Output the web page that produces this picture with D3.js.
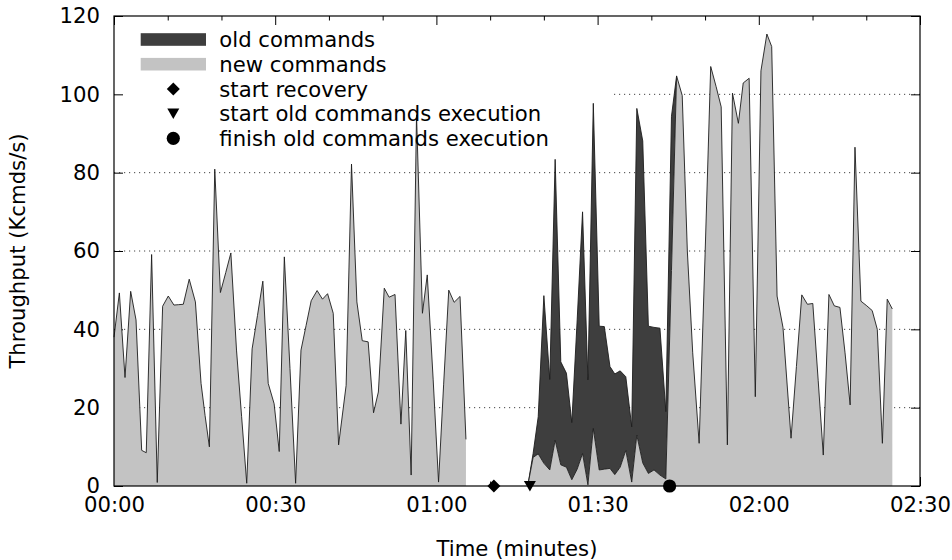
<!DOCTYPE html>
<html>
<head>
<meta charset="utf-8">
<script src="https://cdn.jsdelivr.net/npm/d3@7"></script>
<style>
  html, body { margin: 0; padding: 0; background: #fff; }
  svg { display: block; font-family: "DejaVu Sans", sans-serif; }
</style>
</head>
<body>
<svg id="chart" width="952" height="560"></svg>
<script>
// Throughput before the crash (new commands only), seconds and Kcmds/s
const timesBefore = [0.0, 1.0, 2.05, 3.1, 4.1, 5.15, 6.0, 7.0, 8.05, 9.05, 10.1, 11.15, 12.05, 12.9, 14.0, 15.15,
  16.2, 16.95, 17.75, 18.75, 19.8, 20.8, 21.75, 22.8, 23.75, 24.7, 25.7, 26.7, 27.7, 28.7, 29.8, 30.75, 31.7,
  32.75, 33.8, 34.8, 35.75, 36.7, 37.8, 38.8, 39.75, 40.8, 41.8, 43.2, 44.2, 45.2, 46.2, 47.3, 48.3, 49.2,
  50.3, 51.2, 52.3, 53.4, 54.3, 55.3, 56.3, 57.4, 58.3, 59.4, 60.4, 61.35, 62.3, 63.3, 64.4, 65.5];
const newBefore = [38, 49.3, 27.7, 49.7, 42.4, 9.1, 8.5, 59.1, 0.9, 45.9, 48.5, 46.2, 46.3, 46.4, 52.8, 47.0,
  26.2, 18.0, 10.0, 80.9, 49.4, 54.5, 59.5, 34.7, 17.7, 0.7, 35.0, 43.5, 52.3, 26.2, 21.0, 8.8, 58.5,
  30.0, 0.7, 34.7, 41.0, 47.3, 49.9, 47.7, 49.1, 44.1, 10.5, 25.7, 82.2, 47.0, 37.1, 36.8, 18.7, 24.0,
  50.5, 48.2, 48.9, 15.8, 39.7, 2.8, 94.8, 44.1, 53.9, 27.1, 1.0, 26.0, 50.0, 46.9, 48.4, 11.9];

// Throughput after recovery: new commands, plus old commands replayed on top
const timesAfter = [77.0, 78.0, 78.95, 80.0, 81.1, 82.1, 83.15, 84.2, 85.2, 86.2, 87.2, 88.2, 89.2, 90.3,
  91.25, 92.3, 93.2, 94.2, 95.25, 96.35, 97.3, 98.4, 99.45, 100.5, 101.6, 102.7, 103.75, 104.7,
  105.75, 106.7, 107.7, 108.9, 110.0, 111.05, 112.05, 113.0, 114.15, 115.1, 116.2, 117.1, 118.2, 119.35,
  120.4, 121.5, 122.4, 123.4, 124.5, 126.0, 127.0, 128.0, 129.05, 130.05, 131.05, 132.0, 133.05, 134.05,
  135.1, 136.05, 137.0, 137.9, 139.0, 140.1, 141.1, 142.05, 143.0, 143.9, 144.85];
const newAfter = [0, 7.3, 8.2, 5.8, 4.1, 11.7, 5.4, 4.8, 1.6, 4.3, 8.3, 0.3, 14.7, 4.1,
  4.3, 4.5, 2.9, 4.8, 9.1, 1.0, 13.0, 5.9, 3.2, 4.1, 2.8, 1.8, 55.0, 104.7,
  99.7, 60.0, 34.0, 10.9, 59.0, 107.1, 102.0, 96.8, 10.5, 100.3, 92.6, 102.9, 104.1, 22.8,
  106.0, 115.4, 112.2, 48.5, 40.5, 12.2, 30.5, 48.8, 46.4, 46.6, 27.0, 7.9, 48.9, 46.0,
  45.6, 34.0, 20.7, 86.5, 47.2, 46.0, 44.8, 40.0, 10.9, 47.7, 45.2];
// old commands, for the first timesAfter entries (77.0 s to 104.7 s)
const oldAfter = [0, 1.0, 9.5, 42.8, 23.1, 71.7, 26.3, 24.0, 14.6, 38.1, 61.7, 26.8, 83.0, 36.7,
  36.4, 26.0, 25.7, 24.6, 18.8, 14.1, 83.4, 82.2, 37.6, 36.4, 37.5, 17.2, 39.4, 0];

// Recovery events, in seconds
const eventLabels = ["start recovery", "start old commands execution", "finish old commands execution"];
const eventTimes = [70.7, 77.4, 103.4];
const eventShapes = ["diamond", "triangle", "circle"];

const seriesLabels = ["old commands", "new commands"];
const seriesColors = ["#3e3e3e", "#c3c3c3"];

const yTicks = [0, 20, 40, 60, 80, 100, 120];
const xTicks = [0, 30, 60, 90, 120, 150];
const xTickLabels = ["00:00", "00:30", "01:00", "01:30", "02:00", "02:30"];
const xMinorTicks = [10, 20, 40, 50, 70, 80, 100, 110, 130, 140];

const FONT = 21.2;

const svg = d3.select("#chart");
const x = d3.scaleLinear().domain([0, 150]).range([114, 920]);
const y = d3.scaleLinear().domain([0, 120]).range([486, 16]);

// horizontal grid lines
svg.append("g").selectAll("line")
  .data(yTicks.filter(v => v > 0 && v < 120))
  .join("line")
  .attr("x1", x(0)).attr("x2", x(150))
  .attr("y1", d => y(d)).attr("y2", d => y(d))
  .attr("stroke", "#444").attr("stroke-width", 1)
  .attr("stroke-dasharray", "1.2,3.8");

// key background hides the grid behind it
svg.append("rect")
  .attr("x", x(0) + 0.5).attr("y", 24).attr("width", 612 - x(0)).attr("height", 128)
  .attr("fill", "#fff");

function styleAxis(g) {
  g.select(".domain").remove();
  g.selectAll(".tick line").attr("stroke", "#000").attr("stroke-width", 1);
  g.selectAll("text").attr("font-size", FONT).attr("fill", "#000")
    .attr("font-family", "DejaVu Sans");
}

// inward ticks on all four sides
svg.append("g").attr("transform", `translate(0,${y(0)})`)
  .call(d3.axisBottom(x).tickValues(xTicks).tickFormat((d, i) => xTickLabels[i]).tickSize(-9).tickPadding(11))
  .call(styleAxis);
svg.append("g").attr("transform", `translate(0,${y(0)})`)
  .call(d3.axisBottom(x).tickValues(xMinorTicks).tickFormat("").tickSize(-4.5))
  .call(styleAxis);
svg.append("g").attr("transform", `translate(0,${y(120)})`)
  .call(d3.axisTop(x).tickValues(xTicks).tickFormat("").tickSize(-9))
  .call(styleAxis);
svg.append("g").attr("transform", `translate(0,${y(120)})`)
  .call(d3.axisTop(x).tickValues(xMinorTicks).tickFormat("").tickSize(-4.5))
  .call(styleAxis);
svg.append("g").attr("transform", `translate(${x(0)},0)`)
  .call(d3.axisLeft(y).tickValues(yTicks).tickSize(-9).tickPadding(14))
  .call(styleAxis);
svg.append("g").attr("transform", `translate(${x(150)},0)`)
  .call(d3.axisRight(y).tickValues(yTicks).tickFormat("").tickSize(-9))
  .call(styleAxis);

// data layers
const before = timesBefore.map((t, i) => ({ t, new: newBefore[i], old: 0 }));
const after = timesAfter.map((t, i) => ({ t, new: newAfter[i], old: 0 }));
const recovery = after.slice(0, oldAfter.length).map((d, i) => ({ ...d, old: oldAfter[i] }));

const stacked = d3.stack().keys(["new", "old"])(recovery);

const areaNew = d3.area().x(d => x(d.t)).y0(y(0)).y1(d => y(d.new));
const lineNew = d3.line().x(d => x(d.t)).y(d => y(d.new));
const areaOld = d3.area().x(d => x(d.data.t)).y0(d => y(d[0])).y1(d => y(d[1]));
const lineOld = d3.line().x(d => x(d.data.t)).y(d => y(d[1]));

const plot = svg.append("g");
plot.append("path").datum(stacked[1]).attr("d", areaOld).attr("fill", seriesColors[0]);
plot.append("path").datum(stacked[1]).attr("d", lineOld)
  .attr("fill", "none").attr("stroke", "#1c1c1c").attr("stroke-width", 0.9);
[before, after].forEach(seg => {
  plot.append("path").datum(seg).attr("d", areaNew).attr("fill", seriesColors[1]);
  plot.append("path").datum(seg).attr("d", lineNew)
    .attr("fill", "none").attr("stroke", "#1c1c1c").attr("stroke-width", 0.9)
    .attr("stroke-linejoin", "miter");
});

// frame
svg.append("rect")
  .attr("x", x(0)).attr("y", y(120)).attr("width", x(150) - x(0)).attr("height", y(0) - y(120))
  .attr("fill", "none").attr("stroke", "#000").attr("stroke-width", 1.2);

// marker shapes
function markerPath(shape) {
  if (shape === "diamond") return "M0,-6.5L6.5,0L0,6.5L-6.5,0Z";
  if (shape === "triangle") return "M-6,-5L6,-5L0,5.5Z";
  return d3.arc()({ innerRadius: 0, outerRadius: 6.6, startAngle: 0, endAngle: 2 * Math.PI });
}

// event markers on the time axis
svg.append("g").selectAll("path")
  .data(eventTimes.map((t, i) => ({ t, shape: eventShapes[i] })))
  .join("path")
  .attr("transform", d => `translate(${x(d.t)},${y(0)})`)
  .attr("d", d => markerPath(d.shape))
  .attr("fill", "#000");

// key
const keyRows = [
  { label: seriesLabels[0], kind: "swatch", color: seriesColors[0] },
  { label: seriesLabels[1], kind: "swatch", color: seriesColors[1] },
  ...eventLabels.map((l, i) => ({ label: l, kind: eventShapes[i] }))
];
const key = svg.append("g");
keyRows.forEach((r, i) => {
  const cy = 39.5 + i * 24.7;
  if (r.kind === "swatch") {
    key.append("rect").attr("x", 140.7).attr("y", cy - 6.3).attr("width", 65.3).attr("height", 12.6)
      .attr("fill", r.color);
  } else {
    key.append("path").attr("transform", `translate(173.3,${cy})`)
      .attr("d", markerPath(r.kind)).attr("fill", "#000");
  }
  key.append("text")
    .attr("x", 219.3).attr("y", cy)
    .attr("dy", "0.36em")
    .attr("font-size", FONT)
    .text(r.label);
});

// axis titles
svg.append("text")
  .attr("x", (x(0) + x(150)) / 2).attr("y", 556)
  .attr("text-anchor", "middle").attr("font-size", FONT).text("Time (minutes)");
svg.append("text")
  .attr("transform", `translate(25,${(y(0) + y(120)) / 2}) rotate(-90)`)
  .attr("text-anchor", "middle").attr("font-size", FONT).text("Throughput (Kcmds/s)");
</script>
</body>
</html>
